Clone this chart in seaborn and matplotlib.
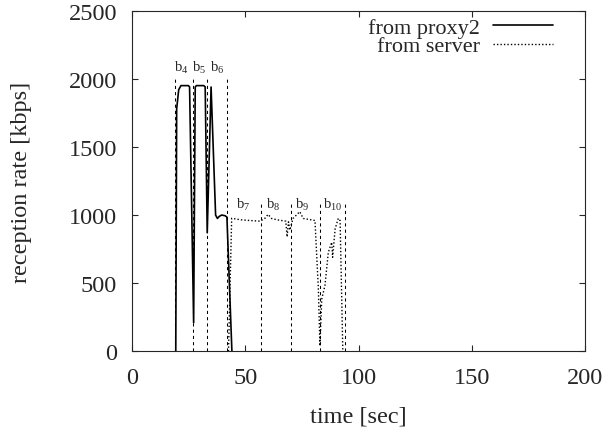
import numpy as np
import pandas as pd
import matplotlib
matplotlib.use("Agg")
import matplotlib.pyplot as plt
import seaborn as sns

# reception rate of a client, first from proxy2 then from the origin server
proxy_t = [19.2, 19.6, 20.5, 21.5, 24.8, 25.3, 27.1, 27.8, 28.3, 31.6, 32.2, 33.1,
           34.8, 36.8, 37.6, 38.4, 39.5, 41.0, 41.8, 44.0]
proxy_r = [0, 1780, 1920, 1950, 1950, 1940, 210, 1940, 1950, 1950, 1940, 870,
           1940, 1000, 975, 990, 1000, 995, 985, 0]

server_t = [42.5, 43.9, 48.0, 52.0, 56.5, 58.5, 60.0, 61.5, 64.0, 67.8, 68.4, 69.0,
            69.6, 71.0, 72.5, 74.0, 75.5, 80.7, 82.2, 82.9, 83.7, 85.1, 86.6,
            88.1, 88.5, 89.6, 91.0, 91.8, 93.0]
server_r = [0, 976, 965, 960, 955, 975, 1005, 975, 965, 955, 840, 950,
            890, 975, 1000, 1025, 975, 960, 457, 40, 384, 482, 727,
            800, 690, 898, 976, 959, 0]

# block boundaries (dashed) and block names
block_edges = [19, 27, 33, 42, 57, 70, 83, 94]
block_tops = [2000, 2000, 2000, 2000, 1100, 1100, 1100, 1100]
block_names = ["b$_4$", "b$_5$", "b$_6$", "b$_7$", "b$_8$", "b$_9$", "b$_{10}$"]
block_label_t = [21.5, 29.5, 37.5, 49.0, 62.0, 75.0, 88.5]
block_label_r = [2090, 2090, 2090, 1085, 1085, 1085, 1085]

sns.set_style("ticks")
plt.rcParams["font.family"] = ["Liberation Serif", "DejaVu Serif"]
plt.rcParams["mathtext.fontset"] = "custom"
plt.rcParams["mathtext.rm"] = "Liberation Serif"
plt.rcParams["mathtext.default"] = "regular"

proxy = pd.DataFrame({"t": proxy_t, "rate": proxy_r})
server = pd.DataFrame({"t": server_t, "rate": server_r})

fig = plt.figure(figsize=(6.08, 4.31), dpi=100)
ax = fig.add_axes([0.2176, 0.1826, 0.7446, 0.7903])

ax.vlines(block_edges, 0, block_tops, colors="black", linestyles=(0, (3, 3)), linewidth=0.75)
for name, t, r in zip(block_names, block_label_t, block_label_r):
    ax.text(t, r, name, ha="center", va="center", fontsize=10.5)

sns.lineplot(data=proxy, x="t", y="rate", ax=ax, color="black", linewidth=1.2,
             label="from proxy2", estimator=None, sort=False)
sns.lineplot(data=server, x="t", y="rate", ax=ax, color="black", linewidth=1.0,
             linestyle=(0, (1, 1.5)), label="from server", estimator=None, sort=False)

ax.set_xlim(0, 200)
ax.set_ylim(0, 2500)
ax.set_xticks([0, 50, 100, 150, 200])
ax.set_yticks([0, 500, 1000, 1500, 2000, 2500])
ax.tick_params(direction="in", top=True, right=True, length=4.5, width=0.8,
               pad=11, labelsize=17.5)
for s in ax.spines.values():
    s.set_linewidth(0.8)

ax.set_xlabel("time [sec]", fontsize=17.5)
ax.set_ylabel("reception rate [kbps]", fontsize=17.5)
ax.xaxis.set_label_coords(0.5, -0.158)
ax.yaxis.set_label_coords(-0.222, 0.5)

ax.legend(loc="upper right", bbox_to_anchor=(0.929, 0.98), frameon=False,
          markerfirst=False, fontsize=16, handlelength=2.7, handletextpad=0.6,
          labelspacing=-0.1, borderpad=0, borderaxespad=0)

fig.savefig("out.png", dpi=100)
